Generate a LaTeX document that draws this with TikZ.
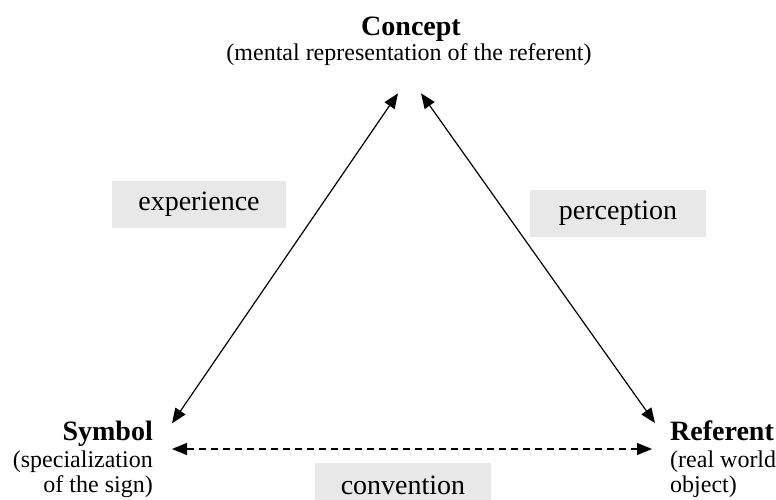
\documentclass[tikz,border=0pt]{standalone}
\usepackage{fontspec}
\setmainfont{Liberation Serif}
\usepackage{tikz}
\usetikzlibrary{arrows.meta}

\definecolor{labelgray}{HTML}{E8E8E8}
\tikzset{
	title/.style={inner sep=0pt, font=\fontsize{28}{30}\selectfont\bfseries},
	subtitle/.style={inner sep=0pt, font=\fontsize{24}{26}\selectfont},
	relbox/.style={fill=labelgray, inner sep=0pt, font=\fontsize{28}{30}\selectfont},
	rel/.style={line width=1.2pt, {Triangle[length=15pt,width=12pt]}-{Triangle[length=15pt,width=12pt]}}
}

\begin{document}
\begin{tikzpicture}[x=1pt,y=1pt]
	\useasboundingbox (0,0) rectangle (776,499);
	% corners of the triangle
	\node[title, anchor=base] (concept) at (411,463) {Concept};
	\node[subtitle, anchor=base] (conceptsub) at (409,438) {(mental representation of the referent)};
	\node[title, anchor=base east] (symbol) at (153,59) {Symbol};
	\node[subtitle, anchor=base east] (symbolsub) at (153,32) {(specialization};
	\node[subtitle, anchor=base east] (symbolsubb) at (153,7) {of the sign)};
	\node[title, anchor=base west] (referent) at (670,59) {Referent};
	\node[subtitle, anchor=base west] (referentsub) at (670,32) {(real world};
	\node[subtitle, anchor=base west] (referentsubb) at (670,7) {object)};
	% relation labels
	\node[relbox, minimum width=174pt, minimum height=47pt] (experience) at (199,294.5) {experience};
	\node[relbox, minimum width=176pt, minimum height=47pt] (perception) at (618,285.5) {perception};
	\node[relbox, minimum width=176pt, minimum height=60pt, text depth=16pt] (convention) at (403,6) {convention};
	% arrows
	\draw[rel] ([xshift=-11pt,yshift=-27pt]conceptsub.south) -- ([xshift=19pt,yshift=-3pt]symbol.north east);
	\draw[rel] ([xshift=12pt,yshift=-27pt]conceptsub.south) -- ([xshift=-15pt,yshift=-3pt]referent.north west);
	\draw[rel, dash pattern=on 7pt off 5pt] ([xshift=19pt,yshift=-9pt]symbol.base east) -- ([xshift=-18pt,yshift=-9pt]referent.base west);
\end{tikzpicture}
\end{document}
